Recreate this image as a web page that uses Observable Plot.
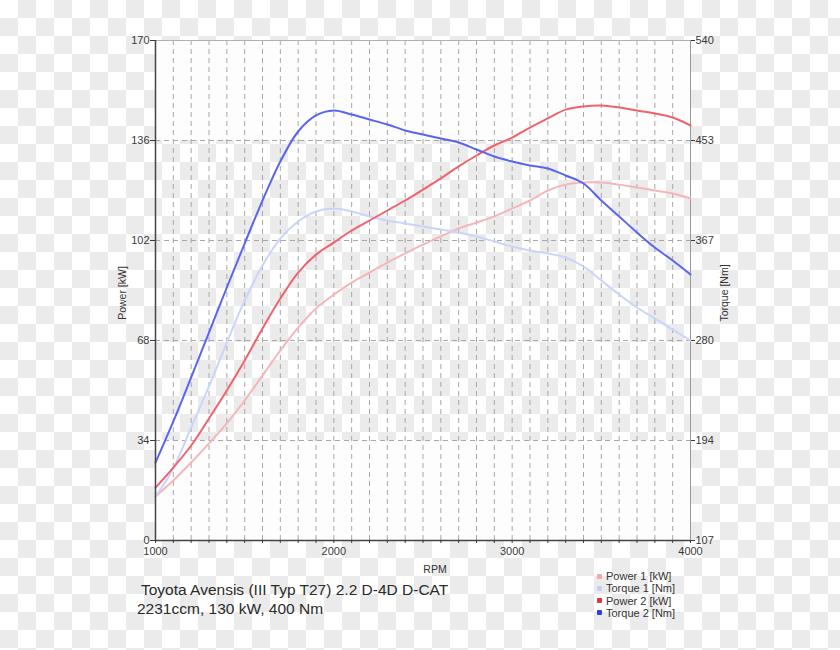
<!DOCTYPE html>
<html>
<head>
<meta charset="utf-8">
<script src="https://cdn.jsdelivr.net/npm/d3@7"></script>
<script src="https://cdn.jsdelivr.net/npm/@observablehq/plot@0.6"></script>
<style>
  html, body { margin: 0; padding: 0; }
  #wrap {
    position: relative; width: 840px; height: 650px; overflow: hidden;
    background-color: #fff;
    background-image: conic-gradient(#ebebeb 0 25%, #ffffff 0 50%, #ebebeb 0 75%, #ffffff 0);
    background-size: 36px 36px;
    font-family: "Liberation Sans", Arial, sans-serif;
    color: #333;
  }
  #wrap svg { position: absolute; left: 0; top: 0; }
  .t { position: absolute; white-space: nowrap; }
  .leg { position: absolute; left: 597px; font-size: 11px; line-height: 12.3px; }
  .leg div { position: relative; padding-left: 9px; }
  .leg span { position: absolute; left: 0; top: 3.5px; width: 5px; height: 5px; border-radius: 1px; }
</style>
</head>
<body>
<div id="wrap"></div>
<script>
// ---- data ----
const rpm = [1000,1100,1200,1300,1400,1500,1600,1700,1800,1900,2000,2100,2200,2300,2400,2500,2600,2700,2800,2900,3000,3100,3200,3300,3400,3500,3600,3700,3800,3900,4000];
const power1 = [15.0,20.4,26.5,33.0,39.8,47.6,56.1,64.6,72.4,78.9,83.6,87.7,91.1,94.5,97.6,100.6,103.4,106.1,108.1,110.2,112.9,115.6,119.0,121.0,121.7,121.7,121.0,120.0,119.0,118.0,116.3];
const torque1 = [145.1,169.4,204.9,240.4,278.5,314.8,345.2,368.5,383.3,391.9,394.5,391.9,387.6,384.1,381.5,378.9,376.3,373.7,370.3,365.9,361.6,358.1,355.5,352.1,344.3,332.2,320.0,308.8,299.3,289.7,280.2];
const power2 = [18.0,24.8,32.3,41.5,51.0,61.2,72.1,82.3,91.1,97.2,101.3,105.4,108.8,112.2,115.6,119.3,123.1,127.2,130.9,134.3,137.0,140.4,143.5,146.5,147.6,147.9,147.2,146.2,145.2,143.8,141.1];
const torque2 = [174.5,210.1,248.2,287.1,326.1,364.2,401.4,435.2,461.2,475.1,479.4,475.9,471.6,467.3,462.1,458.6,455.1,451.7,445.6,439.5,435.2,431.8,429.2,423.1,416.2,401.4,387.6,373.7,360.7,349.5,337.4];

const powerTicks = [0, 34, 68, 102, 136, 170];
const torqueTicks = [107, 194, 280, 367, 453, 540];
const rpmLabels = [1000, 2000, 3000, 4000];
const seriesNames = ["Power 1 [kW]", "Torque 1 [Nm]", "Power 2 [kW]", "Torque 2 [Nm]"];
const lineColors = ["#f5b6ba", "#c9d5fa", "#f0626c", "#5a64f0"];
const legendColors = ["#f4a6a8", "#c4cef8", "#ee2f38", "#2f3cee"];
const title1 = "Toyota Avensis (III Typ T27) 2.2 D-4D D-CAT";
const title2 = "2231ccm, 130 kW, 400 Nm";

// torque -> left (power) scale units
const tMin = torqueTicks[0], tMax = torqueTicks[torqueTicks.length - 1];
const pMax = powerTicks[powerTicks.length - 1];
const t2p = t => (t - tMin) / (tMax - tMin) * pMax;

const rows = rpm.map((r, i) => ({rpm: r, p1: power1[i], t1: t2p(torque1[i]), p2: power2[i], t2: t2p(torque2[i])}));
const keys = ["p1", "t1", "p2", "t2"];

const whiteBands = [[powerTicks[4], powerTicks[5]], [powerTicks[0], powerTicks[1]]];
const gridRpm = rpm.slice(1, -1);
const gridPow = powerTicks.slice(1, -1);

const chart = Plot.plot({
  width: 840, height: 650,
  marginLeft: 155, marginRight: 150, marginTop: 40, marginBottom: 110,
  style: {background: "transparent", fontFamily: "Liberation Sans, Arial, sans-serif", fontSize: "11px", color: "#3a3a3a"},
  x: {domain: [1000, 4000], axis: null},
  y: {domain: [0, 170], axis: null},
  marks: [
    Plot.rect(whiteBands, {y1: d => d[0], y2: d => d[1], fill: "#fdfdfd"}),
    Plot.ruleX(gridRpm, {stroke: "#a8a8a8", strokeDasharray: "5,4", strokeWidth: 1}),
    Plot.ruleY(gridPow, {stroke: "#a8a8a8", strokeDasharray: "5,4", strokeWidth: 1}),
    Plot.ruleY([170], {stroke: "#b0b0b0", strokeWidth: 1}),
    Plot.ruleX([4000], {stroke: "#999", strokeWidth: 1}),
    ...keys.map((k, i) => Plot.line(rows, {x: "rpm", y: k, stroke: lineColors[i], strokeWidth: 2, curve: "catmull-rom"})),
    Plot.ruleX([1000], {stroke: "#444", strokeWidth: 1.5}),
    Plot.ruleY([0], {stroke: "#444", strokeWidth: 1.5}),
    Plot.axisX(rpm, {tickSize: 3, tickPadding: 4, tickFormat: d => rpmLabels.includes(d) ? String(d) : "", label: null, color: "#3a3a3a", fontSize: 11}),
    Plot.axisY(powerTicks, {anchor: "left", tickSize: 5, tickPadding: 1, label: null, color: "#3a3a3a", fontSize: 11}),
    Plot.axisY(powerTicks, {anchor: "right", tickSize: 4, tickPadding: 1, label: null, color: "#3a3a3a", fontSize: 11,
      tickFormat: d => String(torqueTicks[powerTicks.indexOf(d)])})
  ]
});

const wrap = document.getElementById("wrap");
wrap.appendChild(chart);

function addText(txt, style) {
  const el = document.createElement("div");
  el.className = "t";
  el.textContent = txt;
  Object.assign(el.style, style);
  wrap.appendChild(el);
  return el;
}
addText("Power [kW]", {left: "122px", top: "293px", fontSize: "10.5px", transform: "translate(-50%,-50%) rotate(-90deg)"});
addText("Torque [Nm]", {left: "724px", top: "293px", fontSize: "10.5px", transform: "translate(-50%,-50%) rotate(-90deg)"});
addText("RPM", {left: "435px", top: "569px", fontSize: "10.5px", transform: "translate(-50%,-50%)"});
addText(title1, {left: "141px", top: "581px", fontSize: "15.5px", color: "#2a2a2a"});
addText(title2, {left: "137px", top: "600px", fontSize: "15.5px", color: "#2a2a2a"});

const leg = document.createElement("div");
leg.className = "leg";
leg.style.top = "570px";
seriesNames.forEach((n, i) => {
  const row = document.createElement("div");
  const sw = document.createElement("span");
  sw.style.background = legendColors[i];
  row.appendChild(sw);
  row.appendChild(document.createTextNode(n));
  leg.appendChild(row);
});
wrap.appendChild(leg);
</script>
</body>
</html>
